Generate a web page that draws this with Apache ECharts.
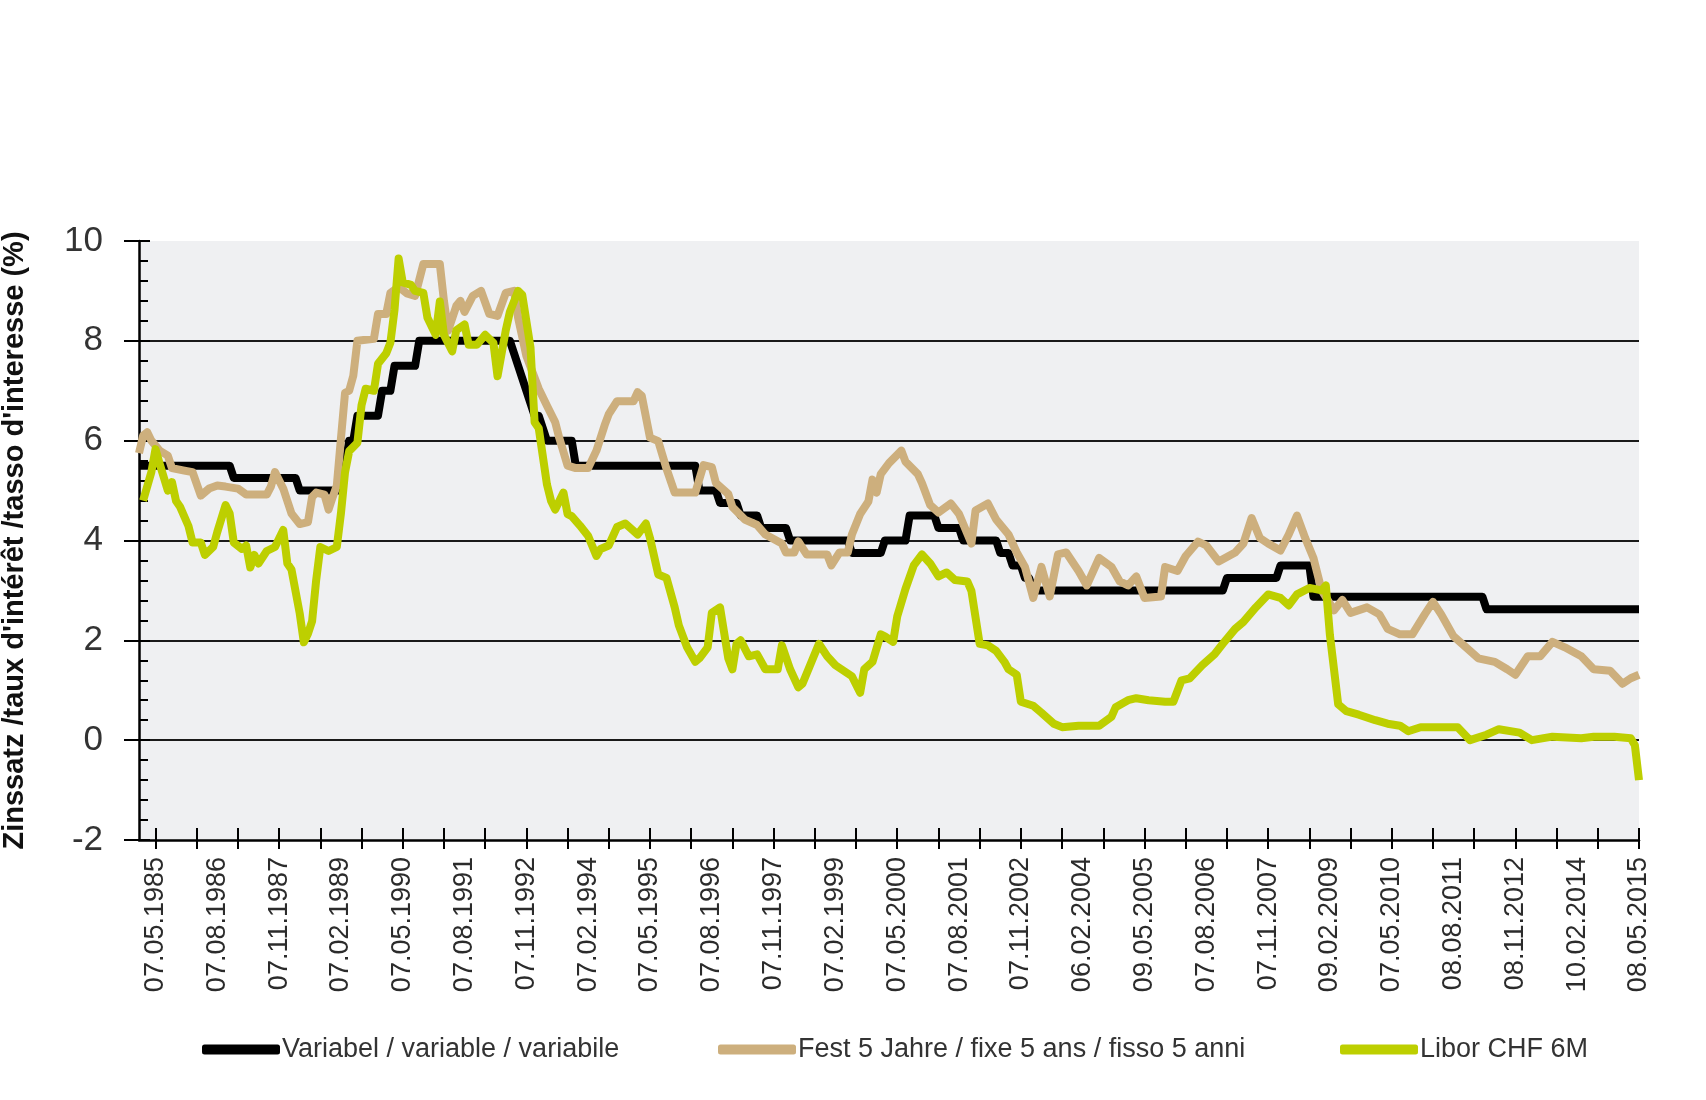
<!DOCTYPE html>
<html>
<head>
<meta charset="utf-8">
<script src="https://cdn.jsdelivr.net/npm/echarts@6/dist/echarts.min.js"></script>
<style>
html,body{margin:0;padding:0;background:#fff;}
#chart{width:1706px;height:1100px;}
</style>
</head>
<body>
<div id="chart"></div>
<script>
// Monthly categories: Jan 1985 .. May 2015 (index 0 .. 364)
const startYear = 1985, monthCount = 365;
const categories = [];
for (let i = 0; i < monthCount; i++) {
  const y = startYear + Math.floor(i / 12), m = (i % 12) + 1;
  categories.push((m < 10 ? '0' : '') + m + '.' + y);
}

// Visible tick labels (every 15 months from index 4)
const tickLabels = ['07.05.1985','07.08.1986','07.11.1987','07.02.1989','07.05.1990','07.08.1991','07.11.1992','07.02.1994','07.05.1995','07.08.1996','07.11.1997','07.02.1999','07.05.2000','07.08.2001','07.11.2002','06.02.2004','09.05.2005','07.08.2006','07.11.2007','09.02.2009','07.05.2010','08.08.2011','08.11.2012','10.02.2014','08.05.2015'];

const seriesNames = ['Variabel / variable / variabile', 'Fest 5 Jahre / fixe 5 ans / fisso 5 anni', 'Libor CHF 6M'];

// [month index, rate %]
const variabel = [[0,5.5],[22,5.5],[23,5.25],[38,5.25],[39,5.0],[49,5.0],[50,5.5],[51,6.0],[52,6.0],[53,6.5],[58,6.5],[59,7.0],[61,7.0],[62,7.5],[67,7.5],[68,8.0],[90,8.0],[91,7.75],[92,7.5],[93,7.25],[94,7.0],[95,6.75],[96,6.5],[97,6.5],[98,6.25],[99,6.0],[105,6.0],[106,5.5],[135,5.5],[136,5.0],[140,5.0],[141,4.75],[145,4.75],[146,4.5],[150,4.5],[151,4.25],[157,4.25],[158,4.0],[172,4.0],[173,3.75],[180,3.75],[181,4.0],[186,4.0],[187,4.5],[193,4.5],[194,4.25],[199,4.25],[200,4.0],[208,4.0],[209,3.75],[211,3.75],[212,3.5],[214,3.5],[215,3.25],[216,3.25],[217,3.0],[263,3.0],[264,3.25],[276,3.25],[277,3.5],[284,3.5],[285,2.875],[326,2.875],[327,2.625],[364,2.625]];

const fest5 = [[0,5.75],[1,6.1],[2,6.17],[3,6.0],[5,5.8],[7,5.7],[8,5.45],[11,5.4],[13,5.37],[15,4.9],[17,5.04],[19,5.1],[21,5.08],[24,5.04],[26,4.92],[31,4.92],[32,5.08],[33,5.37],[35,5.04],[37,4.54],[39,4.33],[41,4.37],[42,4.87],[43,4.96],[45,4.92],[46,4.62],[47,4.87],[48,5.1],[49,6.04],[50,6.96],[51,7.0],[52,7.3],[53,8.0],[57,8.04],[58,8.54],[60,8.54],[61,8.96],[63,9.08],[65,8.95],[67,8.9],[69,9.54],[73,9.54],[74,8.8],[75,8.2],[77,8.7],[78,8.8],[79,8.58],[81,8.9],[83,9.0],[85,8.54],[87,8.5],[89,8.96],[91,9.0],[92,8.46],[94,7.7],[97,7.04],[99,6.7],[101,6.37],[102,6.05],[104,5.5],[106,5.45],[109,5.45],[111,5.8],[113,6.31],[114,6.53],[116,6.79],[120,6.79],[121,6.97],[122,6.9],[124,6.06],[126,5.99],[128,5.44],[130,4.96],[135,4.96],[137,5.51],[139,5.47],[140,5.15],[143,4.93],[144,4.67],[147,4.42],[150,4.31],[152,4.12],[156,3.94],[157,3.76],[159,3.76],[160,3.98],[162,3.72],[167,3.72],[168,3.5],[170,3.76],[172,3.76],[173,4.12],[175,4.53],[177,4.78],[178,5.22],[179,4.96],[180,5.33],[182,5.55],[185,5.8],[186,5.58],[189,5.33],[190,5.15],[192,4.71],[194,4.56],[197,4.74],[199,4.53],[202,3.94],[203,4.6],[206,4.74],[208,4.42],[211,4.12],[213,3.76],[215,3.47],[217,2.85],[219,3.47],[221,2.88],[223,3.72],[225,3.76],[228,3.39],[230,3.1],[233,3.65],[236,3.47],[238,3.18],[240,3.1],[242,3.28],[244,2.85],[248,2.88],[249,3.47],[252,3.39],[254,3.69],[257,3.98],[259,3.9],[262,3.58],[266,3.76],[268,3.94],[270,4.45],[272,4.05],[274,3.94],[277,3.8],[279,4.12],[281,4.5],[283,4.05],[285,3.65],[287,3.0],[290,2.6],[292,2.81],[294,2.55],[298,2.66],[301,2.52],[303,2.23],[306,2.12],[309,2.12],[312,2.52],[314,2.77],[316,2.52],[319,2.08],[322,1.86],[325,1.64],[329,1.57],[332,1.42],[334,1.31],[337,1.68],[340,1.68],[343,1.97],[346,1.86],[350,1.68],[353,1.42],[357,1.39],[360,1.13],[362,1.24],[364,1.31]];

const libor = [[1,4.8],[3,5.37],[4,5.83],[5,5.54],[7,5.0],[8,5.17],[9,4.79],[10,4.67],[12,4.29],[13,3.96],[15,3.96],[16,3.71],[18,3.87],[19,4.17],[21,4.71],[22,4.54],[23,3.96],[25,3.83],[26,3.9],[27,3.46],[28,3.71],[29,3.54],[31,3.79],[33,3.87],[35,4.21],[36,3.54],[37,3.42],[39,2.54],[40,1.96],[41,2.13],[42,2.38],[43,3.21],[44,3.87],[46,3.79],[48,3.87],[49,4.54],[50,5.37],[51,5.79],[53,5.96],[54,6.71],[55,7.04],[57,7.0],[58,7.54],[60,7.75],[61,7.96],[62,8.62],[63,9.65],[64,9.17],[66,9.12],[67,9.0],[69,8.96],[70,8.46],[72,8.12],[73,8.79],[74,8.12],[76,7.79],[77,8.21],[79,8.33],[80,7.92],[82,7.92],[84,8.12],[86,7.96],[87,7.29],[89,8.21],[90,8.58],[92,9.0],[93,8.92],[95,7.87],[96,6.37],[97,6.25],[99,5.12],[100,4.79],[101,4.62],[103,4.96],[104,4.53],[105,4.49],[107,4.3],[109,4.09],[111,3.69],[112,3.83],[114,3.9],[116,4.27],[118,4.34],[121,4.12],[123,4.34],[124,4.05],[126,3.32],[128,3.25],[130,2.66],[131,2.3],[133,1.86],[135,1.57],[136,1.64],[138,1.86],[139,2.55],[141,2.66],[142,2.15],[143,1.64],[144,1.42],[145,1.93],[146,2.0],[148,1.68],[150,1.72],[152,1.42],[155,1.42],[156,1.9],[158,1.42],[160,1.06],[161,1.13],[163,1.53],[165,1.93],[167,1.68],[169,1.5],[171,1.39],[173,1.28],[175,0.95],[176,1.42],[178,1.57],[180,2.12],[181,2.08],[183,1.97],[184,2.48],[186,3.03],[188,3.5],[190,3.72],[192,3.54],[194,3.28],[196,3.36],[198,3.21],[201,3.18],[202,2.99],[204,1.93],[206,1.9],[208,1.79],[210,1.57],[211,1.42],[213,1.31],[214,0.77],[217,0.69],[219,0.55],[222,0.33],[224,0.26],[228,0.29],[233,0.29],[236,0.47],[237,0.66],[240,0.8],[242,0.84],[245,0.8],[249,0.77],[251,0.77],[253,1.2],[255,1.24],[258,1.5],[261,1.72],[263,1.93],[266,2.23],[268,2.37],[271,2.66],[274,2.92],[277,2.85],[279,2.7],[281,2.92],[284,3.05],[287,3.0],[288,3.1],[289,2.1],[291,0.72],[293,0.58],[296,0.51],[300,0.4],[303,0.33],[306,0.29],[308,0.18],[311,0.26],[320,0.26],[323,0.0],[327,0.11],[330,0.22],[335,0.15],[338,0.0],[343,0.07],[350,0.04],[353,0.07],[358,0.07],[362,0.04],[363,-0.1],[364,-0.8]];

const colors = ['#000000', '#CDAF7D', '#BDCF00'];

const labelFirst = 4, labelStep = 15, tickStep = 10;
const font = "'Liberation Sans', Arial, sans-serif";

const chart = echarts.init(document.getElementById('chart'));

function mkLegend(name, left) {
  return {
    data: [name], left: left, top: 1031, orient: 'horizontal',
    icon: 'roundRect', itemWidth: 78, itemHeight: 10,
    textStyle: { fontFamily: font, fontSize: 27, color: '#333', padding: [0, 0, 0, -3] }
  };
}

const option = {
  animation: false,
  backgroundColor: '#ffffff',
  grid: { left: 139, right: 67, top: 241, bottom: 260, show: true, backgroundColor: '#EFF0F2', borderWidth: 0,
          containLabel: false, outerBoundsMode: 'none' },
  legend: [mkLegend(seriesNames[0], 197), mkLegend(seriesNames[1], 713), mkLegend(seriesNames[2], 1335)],
  xAxis: [
    {
      type: 'category', data: categories, boundaryGap: false, position: 'bottom',
      axisLine: { show: true, onZero: false, lineStyle: { color: '#000', width: 2.5 } },
      axisTick: { show: true, inside: false, length: 9, lineStyle: { color: '#000', width: 2 },
        interval: (i) => i >= labelFirst && (i - labelFirst) % tickStep === 0 },
      axisLabel: { show: true, rotate: 90, margin: 17, fontFamily: font, fontSize: 27, color: '#2b2b2b',
        interval: (i) => i >= labelFirst && (i - labelFirst) % labelStep === 0,
        formatter: (v, i) => tickLabels[(i - labelFirst) / labelStep] },
      splitLine: { show: false }
    },
    {
      type: 'category', data: categories, boundaryGap: false, position: 'bottom',
      axisLine: { show: false, onZero: false },
      axisTick: { show: true, inside: true, length: 12, lineStyle: { color: '#000', width: 2 },
        interval: (i) => i >= labelFirst && (i - labelFirst) % tickStep === 0 },
      axisLabel: { show: false },
      splitLine: { show: false }
    }
  ],
  yAxis: [
    {
      type: 'value', min: -2, max: 10, interval: 2, position: 'left',
      name: "Zinssatz /taux d'intérêt /tasso d'interesse (%)",
      nameLocation: 'middle', nameGap: 110,
      nameTextStyle: { fontFamily: font, fontSize: 29, fontWeight: 'bold', color: '#111' },
      axisLine: { show: true, onZero: false, lineStyle: { color: '#000', width: 2.5 } },
      axisTick: { show: true, inside: false, length: 15, lineStyle: { color: '#000', width: 2 } },
      axisLabel: { show: true, margin: 36, fontFamily: font, fontSize: 35, color: '#333' },
      splitLine: { show: true, showMinLine: false, showMaxLine: false, lineStyle: { color: '#1a1a1a', width: 2 } }
    },
    {
      type: 'value', min: -2, max: 10, interval: 2, position: 'left',
      axisLine: { show: false, onZero: false },
      axisTick: { show: true, inside: true, length: 11, lineStyle: { color: '#000', width: 2 } },
      minorTick: { show: true, splitNumber: 5, length: 9, lineStyle: { color: '#000', width: 2 } },
      axisLabel: { show: false },
      splitLine: { show: false }
    }
  ],
  series: [
    { name: seriesNames[0], type: 'line', data: variabel, showSymbol: false, symbol: 'none', color: colors[0],
      lineStyle: { color: colors[0], width: 8, join: 'round' }, z: 3 },
    { name: seriesNames[1], type: 'line', data: fest5, showSymbol: false, symbol: 'none', color: colors[1],
      lineStyle: { color: colors[1], width: 8, join: 'round' }, z: 4 },
    { name: seriesNames[2], type: 'line', data: libor, showSymbol: false, symbol: 'none', color: colors[2],
      lineStyle: { color: colors[2], width: 8, join: 'round' }, z: 5 }
  ]
};
chart.setOption(option);
</script>
</body>
</html>
